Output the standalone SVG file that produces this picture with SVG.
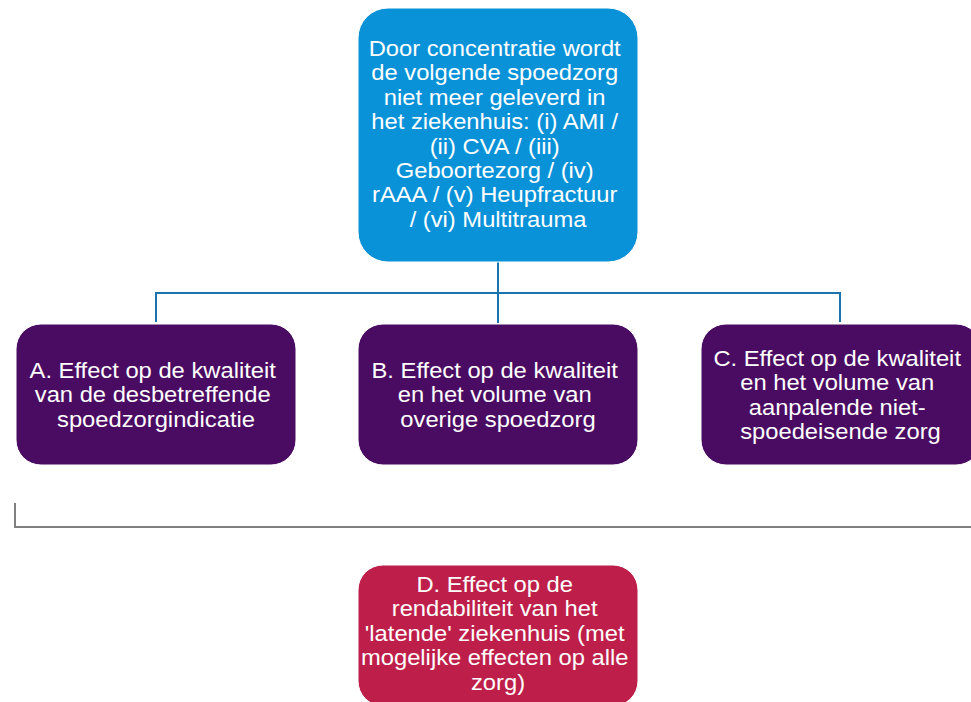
<svg xmlns="http://www.w3.org/2000/svg" width="971" height="702" viewBox="0 0 971 702">
  <style>
    .box { stroke: #ffffff; stroke-width: 1; }
    .top { fill: #0A92D8; }
    .effect { fill: #4A0C62; }
    .finance { fill: #BE1F4A; }
    .label { font-family: "Liberation Sans", Arial, sans-serif; font-size: 22px; fill: #ffffff; text-anchor: middle; }
    .link { fill: none; stroke: #1A73AE; stroke-width: 2; }
    .bracket { fill: none; stroke: #808080; stroke-width: 2; }
  </style>

  <rect width="971" height="702" fill="#ffffff"/>

  <!-- tree connectors -->
  <g id="connectors">
    <path class="link" d="M498,262 V293 M156,322 V293 H840 V322 M498,293 V323"/>
    <path class="bracket" d="M15,503 V527 H975"/>
  </g>

  <!-- top node -->
  <g id="node-concentratie">
    <rect class="box top" x="358" y="8" width="280" height="254" rx="30"/>
    <text class="label" transform="matrix(1.08 0 0 1 -39.84 0)">
      <tspan x="498" y="56">Door concentratie wordt</tspan>
      <tspan x="498" y="80.4">de volgende spoedzorg</tspan>
      <tspan x="498" y="104.8">niet meer geleverd in</tspan>
      <tspan x="498" y="129.2">het ziekenhuis: (i) AMI /</tspan>
      <tspan x="498" y="153.6">(ii) CVA / (iii)</tspan>
      <tspan x="498" y="178">Geboortezorg / (iv)</tspan>
      <tspan x="498" y="202.4">rAAA / (v) Heupfractuur</tspan>
      <tspan x="498" y="226.8">/ (vi) Multitrauma</tspan>
    </text>
  </g>

  <!-- effect A -->
  <g id="node-a">
    <rect class="box effect" x="16" y="324" width="280" height="141" rx="25"/>
    <text class="label" transform="matrix(1.08 0 0 1 -12.48 0)">
      <tspan x="156" y="378">A. Effect op de kwaliteit</tspan>
      <tspan x="156" y="402.5">van de desbetreffende</tspan>
      <tspan x="156" y="427">spoedzorgindicatie</tspan>
    </text>
  </g>

  <!-- effect B -->
  <g id="node-b">
    <rect class="box effect" x="358" y="324" width="280" height="141" rx="25"/>
    <text class="label" transform="matrix(1.08 0 0 1 -39.84 0)">
      <tspan x="498" y="378">B. Effect op de kwaliteit</tspan>
      <tspan x="498" y="402.5">en het volume van</tspan>
      <tspan x="498" y="427">overige spoedzorg</tspan>
    </text>
  </g>

  <!-- effect C -->
  <g id="node-c">
    <rect class="box effect" x="701" y="324" width="280" height="141" rx="25"/>
    <text class="label" transform="matrix(1.08 0 0 1 -67.24 0)">
      <tspan x="840.5" y="366">C. Effect op de kwaliteit</tspan>
      <tspan x="840.5" y="390.4">en het volume van</tspan>
      <tspan x="840.5" y="414.8">aanpalende niet-</tspan>
      <tspan x="840.5" y="439.2">spoedeisende zorg</tspan>
    </text>
  </g>

  <!-- effect D -->
  <g id="node-d">
    <rect class="box finance" x="358" y="565" width="280" height="141" rx="25"/>
    <text class="label" transform="matrix(1.08 0 0 1 -39.84 0)">
      <tspan x="498" y="592">D. Effect op de</tspan>
      <tspan x="498" y="616.5">rendabiliteit van het</tspan>
      <tspan x="498" y="641">'latende' ziekenhuis (met</tspan>
      <tspan x="498" y="665.5">mogelijke effecten op alle</tspan>
      <tspan x="498" y="690">zorg)</tspan>
    </text>
  </g>
</svg>
